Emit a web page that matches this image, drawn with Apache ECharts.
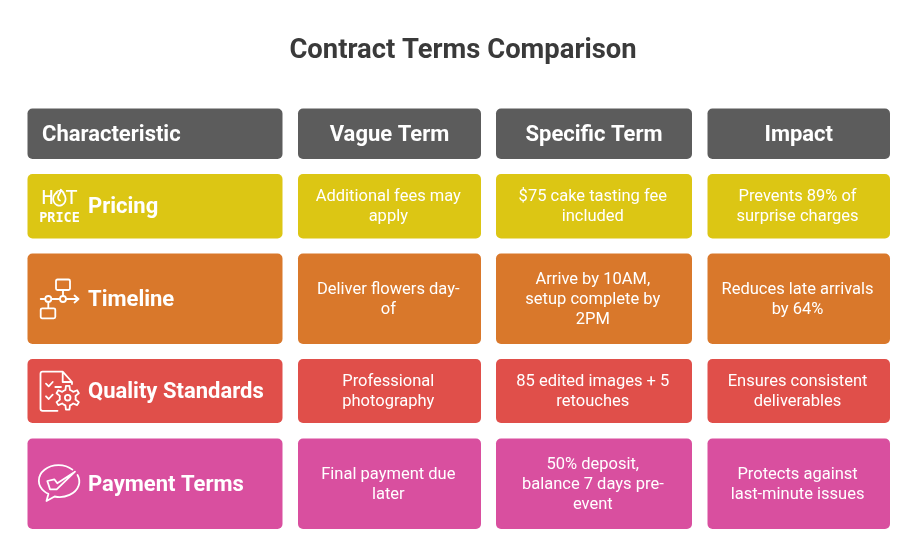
<!DOCTYPE html>
<html>
<head>
<meta charset="utf-8">
<title>Contract Terms Comparison</title>
<script src="https://cdn.jsdelivr.net/npm/echarts@6/dist/echarts.min.js"></script>
<style>
	html, body { margin: 0; padding: 0; background: #fff; }
	#main { width: 923px; height: 555px; }
</style>
</head>
<body>
<div id="main"></div>
<script type="text/javascript">
	// table content
	var chartTitle = 'Contract Terms Comparison';
	var columnNames = ['Characteristic', 'Vague Term', 'Specific Term', 'Impact'];
	var rowNames = ['Pricing', 'Timeline', 'Quality Standards', 'Payment Terms'];
	var vagueTerms = ['Additional fees may\napply', 'Deliver flowers day-\nof', 'Professional\nphotography', 'Final payment due\nlater'];
	var specificTerms = ['$75 cake tasting fee\nincluded', 'Arrive by 10AM,\nsetup complete by\n2PM', '85 edited images + 5\nretouches', '50% deposit,\nbalance 7 days pre-\nevent'];
	var impacts = ['Prevents 89% of\nsurprise charges', 'Reduces late arrivals\nby 64%', 'Ensures consistent\ndeliverables', 'Protects against\nlast-minute issues'];

	// layout, in the units of the hidden axes (one unit = one pixel)
	var colEdges = [[27.5, 282.5], [298, 481], [496, 692], [707.5, 890]];
	var rowEdges = [[108.5, 159], [174, 238.5], [253.5, 344], [359, 423], [438.5, 529]];
	var rowColors = ['#5c5c5c', '#dcc614', '#d9782b', '#e04f4a', '#d94f9f'];
	var iconTops = [182, 275, 367, 460];

	var bodyColumns = [rowNames, vagueTerms, specificTerms, impacts];

	// every cell is [column index, row index, text], row 0 is the header
	var cellData = [];
	columnNames.forEach(function (name, c) {
		cellData.push([c, 0, name]);
		bodyColumns[c].forEach(function (text, r) {
			cellData.push([c, r + 1, text]);
		});
	});

	function gearPath(cx, cy, ro, ri, teeth) {
		var d = '';
		var step = Math.PI * 2 / teeth;
		for (var i = 0; i < teeth; i++) {
			var a = i * step - Math.PI / 2;
			var pts = [[ri, a - step * 0.5], [ri, a - step * 0.28], [ro, a - step * 0.14], [ro, a + step * 0.14], [ri, a + step * 0.28]];
			pts.forEach(function (p, k) {
				d += (i === 0 && k === 0 ? 'M' : 'L') + (cx + p[0] * Math.cos(p[1])).toFixed(2) + ' ' + (cy + p[0] * Math.sin(p[1])).toFixed(2);
			});
		}
		return d + 'Z';
	}

	function roundBox(x1, y1, x2, y2, r) {
		return 'M' + (x1 + r) + ' ' + y1 + 'L' + (x2 - r) + ' ' + y1 + 'Q' + x2 + ' ' + y1 + ' ' + x2 + ' ' + (y1 + r)
			+ 'L' + x2 + ' ' + (y2 - r) + 'Q' + x2 + ' ' + y2 + ' ' + (x2 - r) + ' ' + y2
			+ 'L' + (x1 + r) + ' ' + y2 + 'Q' + x1 + ' ' + y2 + ' ' + x1 + ' ' + (y2 - r)
			+ 'L' + x1 + ' ' + (y1 + r) + 'Q' + x1 + ' ' + y1 + ' ' + (x1 + r) + ' ' + y1 + 'Z';
	}

	function circle(cx, cy, r) {
		return 'M' + (cx - r) + ' ' + cy + 'A' + r + ' ' + r + ' 0 1 1 ' + (cx + r) + ' ' + cy + 'A' + r + ' ' + r + ' 0 1 1 ' + (cx - r) + ' ' + cy + 'Z';
	}

	var iconPaths = [
		// O of HOT redrawn as a ring with a flame
		'M21 10.6A6.2 6.8 0 1 0 28.2 12.6C27.8 11 26.5 9 24.8 7.6C25.2 10 23.5 11.5 22.5 13.5C21.5 15.5 22.2 18 24 18.5',
		// flow diagram
		roundBox(20, 4.5, 34, 15, 1.5) + 'M27 15L27 21' + circle(27, 24, 3) + circle(12.3, 24, 3)
			+ 'M4.7 24L9.3 24M15.3 24L24 24M30 24L42.5 24M38.5 20.5L42.5 24L38.5 27.5M12.3 27L12.3 33.3'
			+ roundBox(4.7, 33.3, 19.3, 43.3, 1.5),
		// checklist and gear
		'M21.5 43.8L6.5 43.8Q4.5 43.8 4.5 41.8L4.5 6.7Q4.5 4.7 6.5 4.7L26.7 4.7L36 15L36 17M26.7 4.7L26.7 15L36 15'
			+ 'M10 16.7L12.7 19.3L16.7 15M19.3 20L25 20M10 29.3L12.7 32L16.7 27.7'
			+ gearPath(31.7, 30.7, 12, 8, 6) + circle(31.7, 30.7, 2.8),
		// speech bubble with tick
		'M36.4 9.6A19.7 15.5 0 1 0 12.4 33.9L10.5 41L18.6 36.5A19.7 15.5 0 0 0 41.5 15'
			+ 'M11.3 21L18.3 19.3L21.3 23.3L39 11.7L20.7 29.3L14 29.3Z'
	];

	function renderCell(params, api) {
		var c = api.value(0);
		var r = api.value(1);
		var text = cellData[params.dataIndex][2];
		var p1 = api.coord([colEdges[c][0], rowEdges[r][0]]);
		var p2 = api.coord([colEdges[c][1], rowEdges[r][1]]);
		var leftLabel = c === 0;
		var bold = r === 0 || c === 0;
		return {
			type: 'group',
			children: [{
				type: 'rect',
				shape: { x: p1[0], y: p1[1], width: p2[0] - p1[0], height: p2[1] - p1[1], r: 5 },
				style: { fill: rowColors[r] }
			}, {
				type: 'text',
				style: {
					text: text,
					x: leftLabel ? p1[0] + (r === 0 ? 14.5 : 60.5) : (p1[0] + p2[0]) / 2 - (bold ? 0 : 1.2),
					y: (p1[1] + p2[1]) / 2 + (bold ? 1.5 : 1),
					align: leftLabel ? 'left' : 'center',
					verticalAlign: 'middle',
					fill: '#ffffff',
					fontFamily: 'Roboto',
					fontSize: bold ? 22 : 16.5,
					fontWeight: bold ? 'bold' : 'normal',
					lineHeight: 20
				}
			}]
		};
	}

	function renderIcon(params, api) {
		var r = api.value(0);
		var o = api.coord([36, iconTops[r]]);
		var children = [];
		if (r === 0) {
			children.push({
				type: 'text',
				style: { text: 'HOT', x: o[0] + 23.5, y: o[1] + 16.5, align: 'center', verticalAlign: 'middle', fill: '#ffffff', fontFamily: 'DejaVu Sans Mono', fontSize: 20 }
			}, {
				type: 'text',
				style: { text: 'PRICE', x: o[0] + 23.5, y: o[1] + 36, align: 'center', verticalAlign: 'middle', fill: '#ffffff', fontFamily: 'DejaVu Sans Mono', fontSize: 13.5, fontWeight: 'bold' }
			}, {
				type: 'circle',
				shape: { cx: o[0] + 23.5, cy: o[1] + 16, r: 6.6 },
				style: { fill: rowColors[1] }
			});
		}
		children.push({
			type: 'path',
			x: o[0],
			y: o[1],
			shape: { pathData: iconPaths[r] },
			style: { fill: 'none', stroke: '#ffffff', lineWidth: 1.8, lineJoin: 'round', lineCap: 'round' }
		});
		return { type: 'group', children: children };
	}

	var myChart = echarts.init(document.getElementById('main'));

	var option = {
		animation: false,
		backgroundColor: '#ffffff',
		title: {
			text: chartTitle,
			left: 458,
			top: 33,
			textAlign: 'center',
			textStyle: { color: '#3a3a3a', fontFamily: 'Roboto', fontSize: 27.4, fontWeight: 'bold' }
		},
		grid: { left: 0, right: 0, top: 0, bottom: 0 },
		xAxis: { type: 'value', min: 0, max: 923, show: false },
		yAxis: { type: 'value', min: 0, max: 555, inverse: true, show: false },
		series: [{
			type: 'custom',
			coordinateSystem: 'cartesian2d',
			renderItem: renderCell,
			data: cellData.map(function (d) { return [d[0], d[1]]; }),
			encode: { x: 0, y: 1 },
			silent: true
		}, {
			type: 'custom',
			coordinateSystem: 'cartesian2d',
			renderItem: renderIcon,
			data: rowNames.map(function (n, i) { return [i]; }),
			silent: true
		}]
	};

	myChart.setOption(option);
</script>
</body>
</html>
